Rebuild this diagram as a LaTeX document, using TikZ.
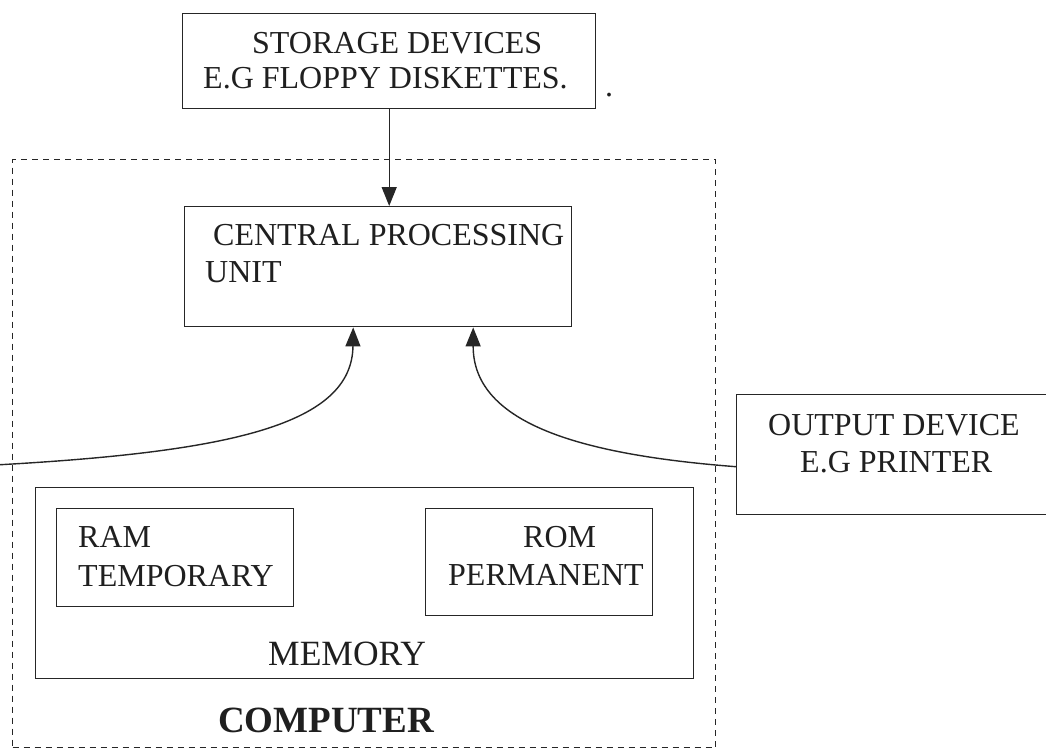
\documentclass[tikz,border=0pt]{standalone}
\usepackage{fontspec}
\setmainfont{Liberation Serif}
\usetikzlibrary{arrows.meta,calc}
\tikzset{
  box/.style={draw=black!85, line width=1.4pt, rectangle, inner sep=0pt, anchor=north west},
  lbl/.style={inner sep=0pt, anchor=base west, text=black!88, font=\fontsize{32}{37}\selectfont},
  dashbox/.style={draw=black!85, line width=1.4pt, dash pattern=on 6pt off 5pt, rectangle, inner sep=0pt, anchor=north west},
  conn/.style={draw=black!85, line width=1.4pt, -{Triangle[length=19pt,width=15pt]}},
}
\begin{document}
\begin{tikzpicture}[x=1pt,y=-1pt]
\useasboundingbox (0,0) rectangle (1046,750);
\clip (0,0) rectangle (1046,750);
% boxes
\node[box, minimum width=413pt, minimum height=95pt] (stor) at (182,13) {};
\node[box, minimum width=387pt, minimum height=120pt] (cpu) at (184,206) {};
\node[box, minimum width=320pt, minimum height=120pt] (out) at (736,394) {};
\node[dashbox, minimum width=703pt, minimum height=588pt] (comp) at (12,159) {};
\node[box, minimum width=658pt, minimum height=191pt] (mem) at (35,487) {};
\node[box, minimum width=237pt, minimum height=98pt] (ram) at (56,508) {};
\node[box, minimum width=227pt, minimum height=107pt] (rom) at (425,508) {};
% texts
\node[lbl] (st1) at (252,53) {STORAGE DEVICES};
\node[lbl] (st2) at (203,88) {E.G FLOPPY DISKETTES.};
\node[lbl] (dot) at (605,96) {.};
\node[lbl] (cpu1) at (213,245) {CENTRAL PROCESSING};
\node[lbl] (cpu2) at (205,282) {UNIT};
\node[lbl] (out1) at (768,435) {OUTPUT DEVICE};
\node[lbl] (out2) at (800,472) {E.G PRINTER};
\node[lbl] (ram1) at (78,547) {RAM};
\node[lbl] (ram2) at (78,586) {TEMPORARY};
\node[lbl] (rom1) at (523,547) {ROM};
\node[lbl] (rom2) at (448,585) {PERMANENT};
\node[lbl, font=\fontsize{35.5}{40}\selectfont] (memt) at (268,665) {MEMORY};
\node[lbl, font=\fontsize{37}{42}\selectfont\bfseries] (compt) at (218,732) {COMPUTER};
% connectors
\coordinate (lin) at (-5,465);
\draw[conn] (stor.south) -- (stor.south |- cpu.north);
\draw[conn] (lin) .. controls (230,452) and (352,425) .. ([xshift=-25pt]cpu.south);
\draw[conn] ([yshift=-12pt]out.west) .. controls (585,455) and (473,425) .. ([xshift=95pt]cpu.south);
\end{tikzpicture}
\end{document}
